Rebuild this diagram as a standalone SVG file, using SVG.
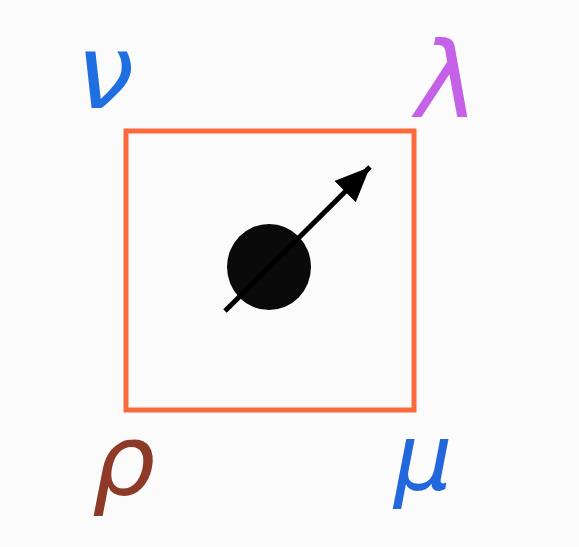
<svg xmlns="http://www.w3.org/2000/svg" width="579" height="547" viewBox="0 0 579 547">
<defs>
<style>
.lbl{font-family:"DejaVu Sans","Liberation Sans",sans-serif;font-style:italic;}
</style>
<marker id="ah" markerWidth="8" markerHeight="7" refX="7" refY="3" orient="auto" markerUnits="strokeWidth">
<path d="M0,0 L7,3 L0,6 Z" fill="#000"/>
</marker>
</defs>
<rect width="579" height="547" fill="#fbfbfb"/>
<g id="square">
<rect x="126" y="131" width="288" height="279" fill="none" stroke="#fb6a3c" stroke-width="5"/>
</g>
<g id="dot">
<ellipse cx="269" cy="267" rx="42" ry="43" fill="#0a0a0a"/>
</g>
<g id="connectors">
<line x1="225" y1="311" x2="370" y2="167" stroke="#000" stroke-width="5" marker-end="url(#ah)"/>
</g>
<g id="nu"><text class="lbl" x="76" y="108" font-size="104" fill="#1f6fe3">ν</text></g>
<g id="lambda"><text class="lbl" x="416" y="117" font-size="105" fill="#c461e6" font-style="normal">λ</text></g>
<g id="rho"><text class="lbl" x="92" y="495" font-size="100" fill="#8e3a28">ρ</text></g>
<g id="mu"><text class="lbl" x="394" y="490" font-size="92" fill="#2367dd">μ</text></g>
</svg>
